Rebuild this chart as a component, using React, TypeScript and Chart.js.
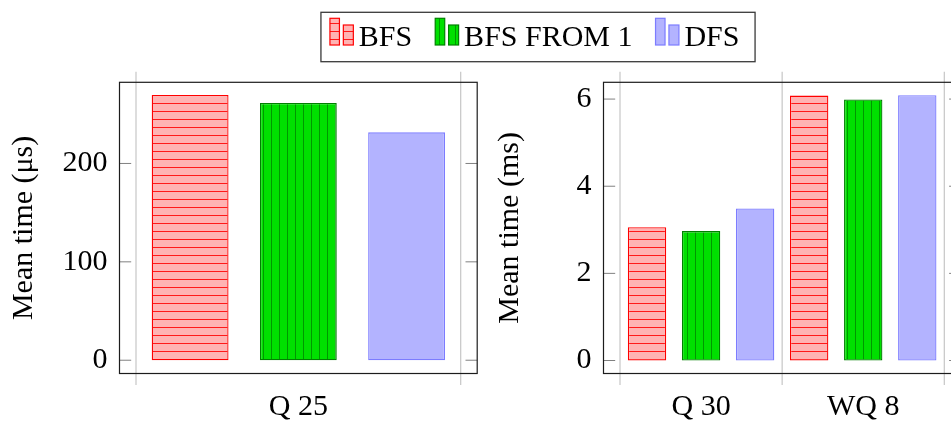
import React, { useEffect, useRef } from 'react';
import { Chart, registerables } from 'chart.js';

Chart.register(...registerables);

// ---------- data ----------
const seriesNames = ['BFS', 'BFS FROM 1', 'DFS'];

const leftCategories = ['Q 25'];
const leftBFS = [269.6];
const leftBFSFrom1 = [261.4];
const leftDFS = [231.6];
const leftYTicks = [0, 100, 200];
const leftYLabel = 'Mean time (μs)';

const rightCategories = ['Q 30', 'WQ 8'];
const rightBFS = [3.06, 6.08];
const rightBFSFrom1 = [2.97, 5.99];
const rightDFS = [3.49, 6.09];
const rightYTicks = [0, 2, 4, 6];
const rightYLabel = 'Mean time (ms)';

// ---------- styles ----------
const FONT = '"Liberation Serif", "Times New Roman", "DejaVu Serif", serif';
const seriesStyles = [
  { fill: '#ffb3b3', line: '#ff1a1a', dir: 'h', border: '#ff0000' },
  { fill: '#00e000', line: '#009800', dir: 'v', border: '#008000' },
  { fill: '#b3b3ff', line: null, dir: null, border: '#7c7cff' },
];

function makePattern(ctx: CanvasRenderingContext2D, s: any) {
  if (!s.line) return s.fill;
  const c = document.createElement('canvas');
  c.width = 8;
  c.height = 8;
  const g = c.getContext('2d')!;
  g.fillStyle = s.fill;
  g.fillRect(0, 0, 8, 8);
  g.fillStyle = s.line;
  if (s.dir === 'h') g.fillRect(0, 7, 8, 1.2);
  else g.fillRect(7, 0, 1.2, 8);
  return ctx.createPattern(c, 'repeat') || s.fill;
}

function buildDatasets(ctx: CanvasRenderingContext2D, values: number[][]) {
  return seriesNames.map((name, i) => ({
    label: name,
    data: values[i],
    backgroundColor: makePattern(ctx, seriesStyles[i]),
    borderColor: seriesStyles[i].border,
    borderWidth: 1.3,
    borderSkipped: false as const,
    categoryPercentage: 1.0,
    barPercentage: 0.71,
  }));
}

const ENLARGE = 16.5;

const framePlugin = {
  id: 'pgfFrame',
  beforeDatasetsDraw(chart: any) {
    const { ctx, chartArea: a, scales } = chart;
    const x = scales.x;
    const n = x.getLabels().length;
    ctx.save();
    ctx.strokeStyle = '#c6c6c6';
    ctx.lineWidth = 1.2;
    for (let i = 0; i <= n; i++) {
      const px = x.getPixelForValue(i - 0.5);
      ctx.beginPath();
      ctx.moveTo(px, a.top - 10.6);
      ctx.lineTo(px, a.bottom + 11.5);
      ctx.stroke();
    }
    const fl = a.left - ENLARGE;
    const fr = a.right + ENLARGE;
    ctx.strokeStyle = '#808080';
    ctx.lineWidth = 1;
    for (const t of scales.y.ticks) {
      const py = scales.y.getPixelForValue(t.value);
      ctx.beginPath();
      ctx.moveTo(fl, py);
      ctx.lineTo(fl + 11.7, py);
      ctx.moveTo(fr - 11.7, py);
      ctx.lineTo(fr, py);
      ctx.stroke();
    }
    ctx.restore();
  },
  afterDatasetsDraw(chart: any) {
    const { ctx, chartArea: a } = chart;
    ctx.save();
    ctx.strokeStyle = '#1c1c1c';
    ctx.lineWidth = 1.2;
    ctx.strokeRect(a.left - ENLARGE, a.top, a.right - a.left + 2 * ENLARGE, a.bottom - a.top);
    ctx.restore();
  },
};

const legendPlugin = {
  id: 'pgfLegend',
  afterDraw(chart: any) {
    const ctx = chart.ctx as CanvasRenderingContext2D;
    ctx.save();
    ctx.font = `30px ${FONT}`;
    const iconW = 23.4;
    const gapIcon = 5.5;
    const gapItem = 23;
    const padL = 9;
    const padR = 15.6;
    const items = chart.data.datasets.map((ds: any) => ({
      ds,
      w: ctx.measureText(ds.label).width,
    }));
    const total =
      padL +
      items.reduce((s: number, it: any) => s + iconW + gapIcon + it.w, 0) +
      gapItem * (items.length - 1) +
      padR;
    const left = chart.width / 2 - total / 2 - 2;
    const top = 12.3;
    const h = 49.4;
    ctx.fillStyle = '#ffffff';
    ctx.fillRect(left, top, total, h);
    ctx.strokeStyle = '#3a3a3a';
    ctx.lineWidth = 1.3;
    ctx.strokeRect(left, top, total, h);
    let x = left + padL;
    const bottom = 45;
    items.forEach((it: any) => {
      const ds = it.ds;
      ctx.fillStyle = ds.backgroundColor;
      ctx.strokeStyle = ds.borderColor;
      ctx.lineWidth = 1.2;
      ctx.fillRect(x, bottom - 26.7, 9.5, 26.7);
      ctx.strokeRect(x, bottom - 26.7, 9.5, 26.7);
      ctx.fillRect(x + 13.4, bottom - 20, 10, 20);
      ctx.strokeRect(x + 13.4, bottom - 20, 10, 20);
      x += iconW + gapIcon;
      ctx.fillStyle = '#000';
      ctx.textBaseline = 'alphabetic';
      ctx.textAlign = 'left';
      ctx.fillText(ds.label, x, 46);
      x += it.w + gapItem;
    });
    ctx.restore();
  },
};

function makeOptions(
  yMin: number,
  yMax: number,
  yTicks: number[],
  yLabel: string,
  yAxisWidth: number,
  titlePad: number,
  padRight: number
) {
  return {
    responsive: false,
    animation: false as const,
    devicePixelRatio: 1,
    layout: { padding: { left: 0, top: 82.3, right: padRight, bottom: 0 } },
    plugins: { legend: { display: false }, tooltip: { enabled: false } },
    scales: {
      x: {
        type: 'category' as const,
        offset: true,
        grid: { display: false, drawTicks: false },
        border: { display: false },
        ticks: { color: '#000', font: { family: FONT, size: 30 }, padding: 15.5, maxRotation: 0 },
        afterFit: (s: any) => {
          s.height = 49.5;
        },
      },
      y: {
        type: 'linear' as const,
        min: yMin,
        max: yMax,
        grid: { display: false, drawTicks: false },
        border: { display: false },
        ticks: { color: '#000', font: { family: FONT, size: 30 }, padding: 28.5, includeBounds: false },
        afterBuildTicks: (s: any) => {
          s.ticks = yTicks.map((v) => ({ value: v }));
        },
        afterFit: (s: any) => {
          s.width = yAxisWidth;
        },
        title: {
          display: true,
          text: yLabel,
          color: '#000',
          font: { family: FONT, size: 30 },
          padding: { top: titlePad, bottom: 0 },
        },
      },
    },
  };
}

export default function App() {
  const leftRef = useRef<HTMLCanvasElement>(null);
  const rightRef = useRef<HTMLCanvasElement>(null);

  useEffect(() => {
    const lc = leftRef.current!;
    const rc = rightRef.current!;
    const lctx = lc.getContext('2d')!;
    const rctx = rc.getContext('2d')!;

    const left = new Chart(lc, {
      type: 'bar',
      data: {
        labels: leftCategories,
        datasets: buildDatasets(lctx, [leftBFS, leftBFSFrom1, leftDFS]),
      },
      options: makeOptions(-13.5, 282.5, leftYTicks, leftYLabel, 136, 6, 1080 - 460.7) as any,
      plugins: [framePlugin, legendPlugin],
    });

    const right = new Chart(rc, {
      type: 'bar',
      data: {
        labels: rightCategories,
        datasets: buildDatasets(rctx, [rightBFS, rightBFSFrom1, rightDFS]),
      },
      options: makeOptions(-0.298, 6.385, rightYTicks, rightYLabel, 140, 12, 520 - (944.3 - 480)) as any,
      plugins: [framePlugin],
    });

    return () => {
      left.destroy();
      right.destroy();
    };
  }, []);

  return (
    <div
      style={{
        position: 'absolute',
        left: 0,
        top: 0,
        width: 951,
        height: 423,
        overflow: 'hidden',
        background: '#fff',
      }}
    >
      <canvas
        ref={leftRef}
        width={1080}
        height={423}
        style={{ position: 'absolute', left: 0, top: 0, width: 1080, height: 423 }}
      />
      <canvas
        ref={rightRef}
        width={520}
        height={423}
        style={{ position: 'absolute', left: 480, top: 0, width: 520, height: 423 }}
      />
    </div>
  );
}
